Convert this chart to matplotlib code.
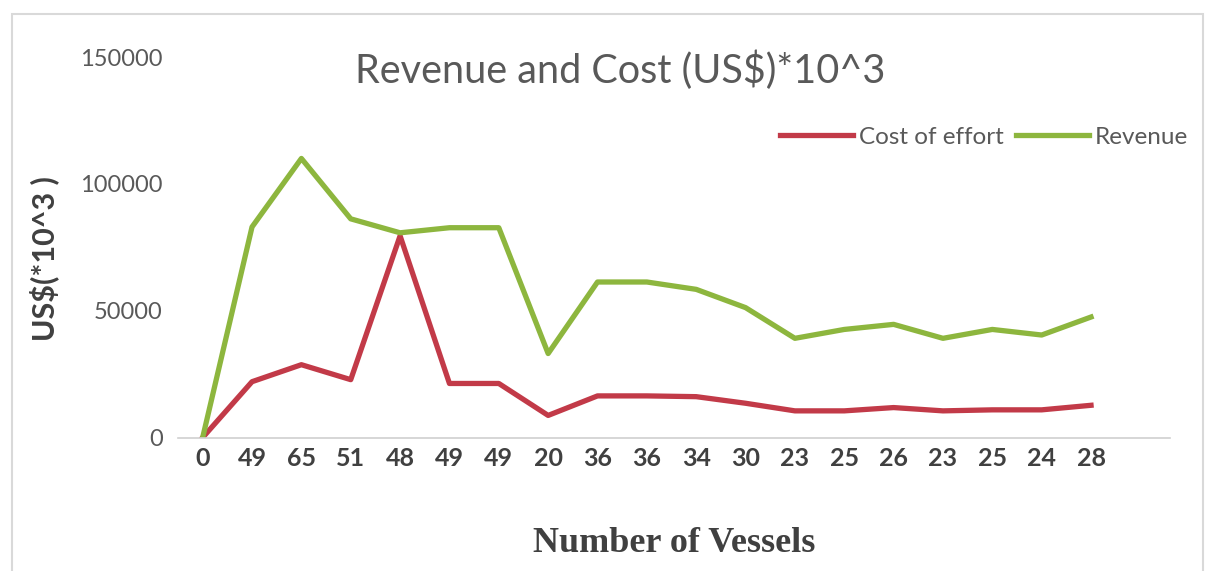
import matplotlib.pyplot as plt
from matplotlib.patches import Rectangle

# vessel counts per year (category labels) and the two series, US$ x10^3
vessels = ["0", "49", "65", "51", "48", "49", "49", "20", "36", "36",
           "34", "30", "23", "25", "26", "23", "25", "24", "28"]
cost_of_effort = [0, 22000, 28700, 22800, 79500, 21300, 21300, 8700, 16400, 16400,
                  16100, 13500, 10500, 10500, 11800, 10500, 10900, 10900, 12700]
revenue = [0, 83000, 110000, 86200, 80700, 82700, 82700, 33100, 61300, 61300,
           58400, 51200, 39100, 42600, 44600, 39100, 42600, 40400, 47500]
y_ticks = [0, 50000, 100000, 150000]

RED = "#c23a48"
GREEN = "#8db63e"
GREY = "#595959"

W, H = 1207, 571
fig = plt.figure(figsize=(W / 100, H / 100), dpi=100)
ax = fig.add_axes([178 / W, 1 - 437.5 / H, (1170 - 178) / W, (437.5 - 57) / H])

x = list(range(len(vessels)))
ax.plot(x, cost_of_effort, color=RED, lw=3.8, solid_joinstyle="round",
        label="Cost of effort")
ax.plot(x, revenue, color=GREEN, lw=3.8, solid_joinstyle="round",
        label="Revenue")

ax.set_xlim(-0.5, 19.6)
ax.set_ylim(0, 150000)
ax.set_xticks(x)
ax.set_xticklabels(vessels, fontfamily="Lato", fontweight="bold",
                   fontsize=18, color="#404040")
ax.set_yticks(y_ticks)
ax.set_yticklabels([str(v) for v in y_ticks], fontfamily="Lato",
                   fontsize=17, color=GREY)
ax.tick_params(axis="both", length=0)
ax.tick_params(axis="x", pad=7)
ax.tick_params(axis="y", pad=11)

for side in ("top", "right", "left"):
    ax.spines[side].set_visible(False)
ax.spines["bottom"].set_color("#d0d0d0")
ax.spines["bottom"].set_linewidth(1.2)

ax.set_xlabel("Number of Vessels", fontfamily="Liberation Serif",
              fontweight="bold", fontsize=26, color="#404040")
ax.xaxis.set_label_coords(0.5, -0.235)
ax.set_ylabel("US$(*10^3 )", fontfamily="Lato", fontweight="bold",
              fontsize=22, color="#404040", parse_math=False)
ax.yaxis.set_label_coords(-0.12, 0.47)

fig.text(620 / W, 1 - 70 / H, "Revenue and Cost (US$)*10^3", ha="center",
         va="center", fontfamily="Lato", fontsize=28.5, color=GREY,
         parse_math=False)

ax.legend(loc="center right", bbox_to_anchor=(1210 / W, 1 - 137 / H),
          bbox_transform=fig.transFigure, ncol=2, frameon=False,
          prop={"family": "Lato", "size": 17.5}, labelcolor=GREY,
          handlelength=3.0, handletextpad=0.25, columnspacing=0.5)

# light border around the chart area
fig.patches.append(Rectangle((12 / W, -0.05), (1203 - 12) / W, 1.05 - 14 / H,
                             transform=fig.transFigure, fill=False,
                             edgecolor="#d9d9d9", lw=1.5))

fig.savefig("out.png", dpi=100)
